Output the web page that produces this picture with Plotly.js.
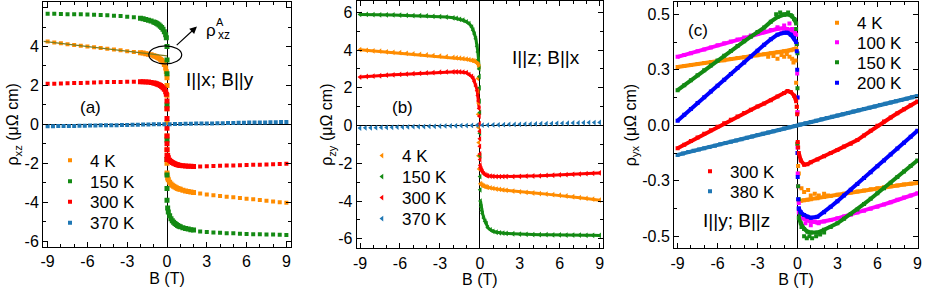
<!DOCTYPE html>
<html><head><meta charset="utf-8">
<script src="https://cdn.plot.ly/plotly-3.0.1.min.js"></script>
<style>html,body{margin:0;padding:0;background:#fff}#chart{width:926px;height:294px}</style>
</head><body><div id="chart"></div>
<script>
// ---------- tick labels ----------
const xTickVals = [-9,-6,-3,0,3,6,9];
const xTickText = ['-9','-6','-3','0','3','6','9'];
const abTickVals = [-6,-4,-2,0,2,4,6];
const abTickText = ['-6','-4','-2','0','2','4','6'];
const cTickVals = [-0.6,-0.3,0,0.3,0.6];
const cTickText = ['-0.5','-0.3','0.0','0.3','0.5'];

// ---------- panel (a): rho_xz, I||x, B||y ----------
const aBout = [-9,-8.5,-8,-7.5,-7,-6.5,-6,-5.5,-5,-4.5,-4,-3.5,-3,-2.5,2.5,3,3.5,4,4.5,5,5.5,6,6.5,7,7.5,8,8.5,9];
const a4Kout = [4.25,4.21,4.16,4.12,4.08,4.04,4.0,3.96,3.92,3.88,3.84,3.8,3.76,3.72,-3.55,-3.6,-3.64,-3.68,-3.72,-3.75,-3.78,-3.82,-3.85,-3.89,-3.92,-3.96,-4.0,-4.03];
const a150Kout = [5.68,5.68,5.67,5.66,5.66,5.65,5.64,5.63,5.62,5.6,5.58,5.56,5.53,5.5,-5.5,-5.53,-5.55,-5.57,-5.59,-5.6,-5.62,-5.63,-5.64,-5.65,-5.66,-5.66,-5.67,-5.68];
const a300Kout = [2.08,2.09,2.1,2.11,2.12,2.13,2.14,2.15,2.16,2.17,2.17,2.18,2.19,2.19,-2.16,-2.15,-2.14,-2.13,-2.12,-2.11,-2.1,-2.09,-2.08,-2.07,-2.06,-2.05,-2.04,-2.03];
const aBin = [-2,-1.8,-1.6,-1.4,-1.2,-1,-0.9,-0.8,-0.7,-0.6,-0.5,-0.4,-0.3,-0.2,-0.1,-0.05,0,0,0,0,0,0,0,0,0,0.05,0.1,0.2,0.3,0.4,0.5,0.6,0.7,0.8,0.9,1,1.2,1.4,1.6,1.8,2];
const a4Kin = [3.68,3.66,3.63,3.6,3.57,3.53,3.5,3.47,3.44,3.4,3.35,3.29,3.2,3.08,2.9,2.7,2.4,2.0,1.5,0.8,0.1,-0.6,-1.3,-2.0,-2.5,-2.75,-2.85,-2.97,-3.06,-3.13,-3.18,-3.22,-3.26,-3.29,-3.32,-3.34,-3.38,-3.42,-3.45,-3.48,-3.5];
const a150Kin = [5.45,5.42,5.39,5.35,5.31,5.26,5.23,5.19,5.15,5.1,5.04,4.97,4.88,4.76,4.6,4.45,4.0,3.3,2.6,1.0,-0.8,-1.8,-2.6,-3.3,-3.9,-4.3,-4.5,-4.7,-4.85,-4.95,-5.03,-5.09,-5.14,-5.19,-5.23,-5.26,-5.31,-5.35,-5.38,-5.41,-5.43];
const a300Kin = [2.19,2.19,2.18,2.17,2.15,2.13,2.11,2.09,2.06,2.03,1.99,1.94,1.88,1.8,1.68,1.55,1.2,0.8,0.3,-0.2,-0.6,-1.0,-1.3,-1.6,-1.8,-1.6,-1.72,-1.84,-1.91,-1.96,-2.0,-2.03,-2.06,-2.08,-2.1,-2.11,-2.13,-2.14,-2.15,-2.15,-2.16];
const aFitB = [-9.3, 0];
const aFitY = [4.26, 3.52];

// shared field grid for the nearly linear high-T curves
const linB = [-9,-8.6,-8.2,-7.8,-7.4,-7,-6.6,-6.2,-5.8,-5.4,-5,-4.6,-4.2,-3.8,-3.4,-3,-2.6,-2.2,-1.8,-1.4,-1,-0.6,-0.2,0.2,0.6,1,1.4,1.8,2.2,2.6,3,3.4,3.8,4.2,4.6,5,5.4,5.8,6.2,6.6,7,7.4,7.8,8.2,8.6,9];
const a370K = [-0.10,-0.10,-0.09,-0.09,-0.08,-0.08,-0.07,-0.07,-0.06,-0.06,-0.05,-0.05,-0.04,-0.04,-0.03,-0.03,-0.02,-0.02,-0.01,-0.01,0,0,0.01,0.01,0.02,0.02,0.03,0.03,0.04,0.04,0.05,0.05,0.06,0.06,0.07,0.07,0.08,0.08,0.09,0.09,0.10,0.10,0.11,0.11,0.12,0.12];

// ---------- panel (b): rho_zy, I||z, B||x ----------
const bBneg = [-9,-8.5,-8,-7.5,-7,-6.5,-6,-5.5,-5,-4.5,-4,-3.5,-3,-2.5,-2,-1.75,-1.5,-1.25,-1,-0.8,-0.6,-0.5,-0.4,-0.3,-0.2,-0.15,-0.1,-0.05];
const bBpos = [0.05,0.1,0.15,0.2,0.3,0.4,0.5,0.6,0.8,1,1.25,1.5,1.75,2,2.5,3,3.5,4,4.5,5,5.5,6,6.5,7,7.5,8,8.5,9];
const b4Kneg = [4.02,3.99,3.96,3.94,3.91,3.88,3.86,3.83,3.8,3.77,3.74,3.71,3.68,3.65,3.61,3.59,3.57,3.55,3.52,3.49,3.46,3.44,3.41,3.37,3.32,3.28,3.22,3.12];
const b4Kpos = [-3.08,-3.12,-3.15,-3.17,-3.2,-3.23,-3.25,-3.27,-3.3,-3.33,-3.36,-3.38,-3.41,-3.43,-3.47,-3.51,-3.54,-3.57,-3.6,-3.63,-3.66,-3.69,-3.73,-3.77,-3.82,-3.86,-3.9,-3.95];
const b150Kneg = [5.89,5.89,5.88,5.87,5.87,5.86,5.85,5.84,5.83,5.82,5.81,5.79,5.77,5.75,5.71,5.68,5.63,5.58,5.5,5.4,5.22,5.05,4.85,4.6,4.2,3.9,3.5,3.0];
const b150Kpos = [-4.0,-4.3,-4.5,-4.65,-4.9,-5.08,-5.2,-5.4,-5.52,-5.6,-5.65,-5.68,-5.7,-5.71,-5.73,-5.75,-5.76,-5.77,-5.78,-5.78,-5.79,-5.79,-5.8,-5.8,-5.8,-5.81,-5.81,-5.82];
const b300Kneg = [2.57,2.6,2.62,2.64,2.67,2.69,2.71,2.73,2.75,2.77,2.79,2.81,2.83,2.84,2.85,2.85,2.84,2.83,2.8,2.7,2.6,2.5,2.33,2.1,1.85,1.6,1.3,0.9];
const b300Kpos = [-2.2,-2.3,-2.38,-2.45,-2.54,-2.6,-2.64,-2.66,-2.68,-2.69,-2.7,-2.7,-2.7,-2.7,-2.7,-2.69,-2.68,-2.67,-2.66,-2.64,-2.63,-2.61,-2.6,-2.58,-2.57,-2.55,-2.53,-2.51];
const b4KjB = [-0.15,-0.12,-0.1,-0.12,-0.1,-0.08,-0.1,-0.05];
const b4KjY = [2.5,1.8,1.2,0.6,-0.1,-0.9,-1.6,-2.3];
const b150KjB = [-0.03,-0.02,-0.02,0,0,0.02,0.02,0.03];
const b150KjY = [2.6,2.0,1.3,0.7,-0.4,-1.6,-2.7,-3.4];
const b300KjB = [-0.03,-0.02,-0.01,0,0,0.01,0.02,0.03];
const b300KjY = [0.5,0.1,-0.3,-0.7,-1.1,-1.5,-1.8,-2.1];
const b370K = [-0.13,-0.12,-0.12,-0.11,-0.10,-0.10,-0.09,-0.08,-0.08,-0.07,-0.06,-0.06,-0.05,-0.04,-0.04,-0.03,-0.02,-0.02,-0.01,0,0,0.01,0.02,0.02,0.03,0.04,0.04,0.05,0.06,0.06,0.07,0.08,0.08,0.09,0.10,0.10,0.11,0.12,0.12,0.13,0.14,0.14,0.15,0.16,0.16,0.17];

// ---------- panel (c): rho_yx, I||y, B||z ----------
const cBneg = [-9,-8.5,-8,-7.5,-7,-6.5,-6,-5.5,-5,-4.5,-4,-3.5,-3,-2.5,-2,-1.5,-1,-0.75,-0.5,-0.25,-0.1];
const cBpos = [0.1,0.25,0.5,0.75,1,1.5,2,2.5,3,3.5,4,4.5,5,5.5,6,6.5,7,7.5,8,8.5,9];
const c4Kneg = [0.315,0.32,0.326,0.331,0.336,0.342,0.347,0.352,0.358,0.363,0.368,0.374,0.379,0.384,0.39,0.395,0.4,0.403,0.406,0.41,0.415];
const c4Kpos = [-0.41,-0.408,-0.405,-0.402,-0.4,-0.394,-0.388,-0.382,-0.376,-0.37,-0.364,-0.358,-0.352,-0.346,-0.34,-0.335,-0.33,-0.325,-0.32,-0.316,-0.312];
const c100Kneg = [0.37,0.38,0.39,0.4,0.41,0.42,0.432,0.443,0.453,0.464,0.474,0.485,0.495,0.505,0.515,0.522,0.525,0.52,0.515,0.505,0.49];
const c100Kpos = [-0.47,-0.49,-0.505,-0.515,-0.52,-0.525,-0.52,-0.512,-0.503,-0.493,-0.483,-0.472,-0.462,-0.451,-0.44,-0.428,-0.416,-0.403,-0.39,-0.379,-0.368];
const c150Kneg = [0.19,0.217,0.244,0.27,0.297,0.323,0.35,0.376,0.402,0.428,0.454,0.479,0.504,0.528,0.56,0.585,0.598,0.6,0.595,0.575,0.55];
const c150Kpos = [-0.5,-0.53,-0.56,-0.575,-0.58,-0.58,-0.565,-0.55,-0.53,-0.505,-0.48,-0.455,-0.425,-0.397,-0.368,-0.34,-0.31,-0.28,-0.25,-0.22,-0.19];
const c200Kneg = [0.025,0.057,0.088,0.12,0.151,0.183,0.214,0.246,0.277,0.309,0.34,0.372,0.403,0.435,0.465,0.49,0.5,0.5,0.49,0.47,0.45];
const c200Kpos = [-0.45,-0.47,-0.485,-0.495,-0.5,-0.495,-0.47,-0.44,-0.41,-0.379,-0.348,-0.317,-0.285,-0.254,-0.222,-0.19,-0.158,-0.126,-0.094,-0.062,-0.03];
const c300Kneg = [-0.124,-0.105,-0.085,-0.066,-0.046,-0.027,-0.008,0.011,0.03,0.048,0.066,0.084,0.101,0.118,0.135,0.155,0.175,0.185,0.18,0.16,0.13];
const c300Kpos = [-0.15,-0.19,-0.213,-0.21,-0.2,-0.185,-0.168,-0.15,-0.133,-0.115,-0.1,-0.08,-0.055,-0.03,-0.003,0.02,0.042,0.065,0.087,0.108,0.128];
const c380K = [-0.160,-0.152,-0.145,-0.138,-0.131,-0.124,-0.117,-0.110,-0.103,-0.096,-0.089,-0.082,-0.075,-0.068,-0.060,-0.053,-0.046,-0.039,-0.032,-0.025,-0.018,-0.011,-0.004,0.004,0.011,0.018,0.025,0.032,0.039,0.046,0.053,0.060,0.067,0.074,0.081,0.088,0.095,0.102,0.109,0.116,0.123,0.130,0.137,0.144,0.151,0.158];
const c4KsB = [-2.2,-1.8,-1.5,-1.2,-1.0,-0.8,-0.6,-0.4,-0.3,-0.15,-0.1,-0.05,0,0,0.05,0.1,0.3,0.5,0.8,1.0,1.3,1.6,2.0,2.3];
const c4KsY = [0.37,0.375,0.36,0.38,0.37,0.385,0.37,0.36,0.34,0.35,0.23,0.1,0.07,-0.1,-0.22,-0.26,-0.34,-0.36,-0.35,-0.38,-0.37,-0.38,-0.37,-0.38];
const c100KsB = [-1.5,-1.2,-1.0,-0.8,-0.6,-0.4,-0.3,-0.2,-0.05,-0.02,0,0,0,0.02,0.05,0.1,0.2,0.4,0.6,0.8,1.0,1.3,1.6];
const c100KsY = [0.53,0.50,0.54,0.51,0.55,0.52,0.49,0.5,0.44,0.28,0.15,0.07,-0.12,-0.26,-0.33,-0.42,-0.47,-0.5,-0.53,-0.51,-0.54,-0.52,-0.53];
const c150KsB = [-1.6,-1.3,-1.0,-0.7,-0.4,-0.2,-0.1,-0.05,0,0,0,0.05,0.1,0.2,0.3,0.5,0.7,0.9,1.1,1.4,1.7,2.0];
const c150KsY = [0.6,0.61,0.6,0.61,0.59,0.57,0.52,0.44,0.39,0.2,-0.1,-0.33,-0.4,-0.48,-0.55,-0.6,-0.61,-0.6,-0.61,-0.6,-0.59,-0.58];
const c200KsB = [-0.05,-0.02,0,0,0.02,0.05,0.1];
const c200KsY = [0.4,0.3,0.15,-0.15,-0.28,-0.4,-0.45];
const c300KsB = [-0.05,-0.02,0.02,0.05];
const c300KsY = [0.1,0.06,-0.09,-0.12];

// ---------- styling ----------
const FONT = 'Liberation Sans, Arial, sans-serif';
const ORANGE = '#ff8c00', GREEN = '#138a13', RED = '#ff0000', STEEL = '#1f77b4';
const MAGENTA = '#ff00ff', BLUE = '#0000ff', OLIVE = '#7d7d22';
const W = 926, H = 294;

const traces = [];
function pts(x, y, xa, ya, color, sym, size, name, legend) {
  traces.push({type:'scatter', mode:'markers', x, y, xaxis:xa, yaxis:ya,
    marker:{color, symbol:sym, size, line:{width:0}},
    name: name || '', showlegend: !!name, legend: legend || 'legend', hoverinfo:'skip'});
}
function line(x, y, xa, ya, color, w) {
  traces.push({type:'scatter', mode:'lines', x, y, xaxis:xa, yaxis:ya,
    line:{color, width:w}, showlegend:false, hoverinfo:'skip'});
}

// panel (a)
pts(aBin, a4Kin, 'x', 'y', ORANGE, 'square', 5);
pts(aBin, a150Kin, 'x', 'y', GREEN, 'square', 5);
pts(aBin, a300Kin, 'x', 'y', RED, 'square', 5);
pts(aBout, a4Kout, 'x', 'y', ORANGE, 'square', 4, '4 K', 'legend');
pts(aBout, a150Kout, 'x', 'y', GREEN, 'square', 4, '150 K', 'legend2');
pts(aBout, a300Kout, 'x', 'y', RED, 'square', 4, '300 K', 'legend3');
pts(linB, a370K, 'x', 'y', STEEL, 'square', 4, '370 K', 'legend4');
line(aFitB, aFitY, 'x', 'y', OLIVE, 1.3);

// panel (b)
const TRI = 'triangle-left';
line(bBneg, b4Kneg, 'x2', 'y2', ORANGE, 3); line(bBpos, b4Kpos, 'x2', 'y2', ORANGE, 3);
line(bBneg, b150Kneg, 'x2', 'y2', GREEN, 3); line(bBpos, b150Kpos, 'x2', 'y2', GREEN, 3);
line(bBneg, b300Kneg, 'x2', 'y2', RED, 3); line(bBpos, b300Kpos, 'x2', 'y2', RED, 3);
pts(bBneg, b4Kneg, 'x2', 'y2', ORANGE, TRI, 5, '4 K', 'legend5');
pts(bBpos, b4Kpos, 'x2', 'y2', ORANGE, TRI, 5);
pts(b4KjB, b4KjY, 'x2', 'y2', ORANGE, TRI, 5);
pts(bBneg, b150Kneg, 'x2', 'y2', GREEN, TRI, 5, '150 K', 'legend6');
pts(bBpos, b150Kpos, 'x2', 'y2', GREEN, TRI, 5);
pts(b150KjB, b150KjY, 'x2', 'y2', GREEN, TRI, 5);
pts(bBneg, b300Kneg, 'x2', 'y2', RED, TRI, 5, '300 K', 'legend7');
pts(bBpos, b300Kpos, 'x2', 'y2', RED, TRI, 5);
pts(b300KjB, b300KjY, 'x2', 'y2', RED, TRI, 5);
pts(linB, b370K, 'x2', 'y2', STEEL, TRI, 5, '370 K', 'legend8');

// panel (c)
const cSeries = [
  [c4Kneg, c4Kpos, c4KsB, c4KsY, ORANGE, '4 K', 'legend9'],
  [c100Kneg, c100Kpos, c100KsB, c100KsY, MAGENTA, '100 K', 'legend10'],
  [c150Kneg, c150Kpos, c150KsB, c150KsY, GREEN, '150 K', 'legend11'],
  [c200Kneg, c200Kpos, c200KsB, c200KsY, BLUE, '200 K', 'legend12'],
  [c300Kneg, c300Kpos, c300KsB, c300KsY, RED, '300 K', 'legend13'],
];
cSeries.forEach(([yn, yp, sb, sy, col, name, lg]) => {
  line(cBneg, yn, 'x3', 'y3', col, 4);
  line(cBpos, yp, 'x3', 'y3', col, 4);
  pts(cBneg, yn, 'x3', 'y3', col, 'square', 4, name, lg);
  pts(cBpos, yp, 'x3', 'y3', col, 'square', 4);
  pts(sb, sy, 'x3', 'y3', col, 'square', 4);
});
line(linB, c380K, 'x3', 'y3', STEEL, 4);
pts(linB, c380K, 'x3', 'y3', STEEL, 'square', 4, '380 K', 'legend14');

// ---------- layout ----------
const tickFont = {family: FONT, size: 16, color: '#000'};
const titleFont = {family: FONT, size: 16, color: '#000'};
function axis(extra) {
  return Object.assign({
    showline: true, linecolor: '#000', linewidth: 1, mirror: 'allticks',
    ticks: 'inside', ticklen: 5, tickwidth: 1, tickcolor: '#000',
    showgrid: false, zeroline: true, zerolinecolor: '#000', zerolinewidth: 1,
    tickfont: tickFont, tickmode: 'array', fixedrange: true,
  }, extra);
}
function xax(dom, range, anchor) {
  return axis({domain: dom, range, anchor, tickvals: xTickVals, ticktext: xTickText,
    minor: {tickmode: 'linear', tick0: 0, dtick: 1, ticks: 'inside', ticklen: 3, tickwidth: 1, tickcolor: '#000', showgrid: false},
    title: {text: 'B (T)', font: titleFont, standoff: 1}});
}
function yax(dom, range, anchor, tv, tt, mdt, title) {
  return axis({domain: dom, range, anchor, tickvals: tv, ticktext: tt,
    minor: {tickmode: 'linear', tick0: 0, dtick: mdt, ticks: 'inside', ticklen: 3, tickwidth: 1, tickcolor: '#000', showgrid: false},
    title: {text: title, font: titleFont, standoff: 1}});
}
const legBase = {xanchor: 'left', yanchor: 'middle', bgcolor: 'rgba(0,0,0,0)', borderwidth: 0,
  font: {family: FONT, size: 17, color: '#000'}, itemwidth: 30, tracegroupgap: 0};
const leg = (px, py) => Object.assign({x: px / W, y: 1 - py / H}, legBase);

const ann = (x, y, xref, yref, text, size, extra) => Object.assign({x, y, xref, yref, text, showarrow: false,
  font: {family: FONT, size: size || 17, color: '#000'}}, extra || {});

const layout = {
  width: W, height: H, margin: {l: 0, r: 0, t: 0, b: 0},
  paper_bgcolor: '#fff', plot_bgcolor: '#fff', showlegend: true,
  xaxis: xax([43/W, 291/W], [-9.35, 9.35], 'y'),
  yaxis: yax([1-247/H, 1-1.7/H], [-6.3, 6.3], 'x', abTickVals, abTickText, 1, 'ρ<sub>xz</sub> (μΩ cm)'),
  xaxis2: xax([356.7/W, 603/W], [-9.25, 9.25], 'y2'),
  yaxis2: yax([1-248.3/H, 1-1/H], [-6.5, 6.6], 'x2', abTickVals, abTickText, 1, 'ρ<sub>zy</sub> (μΩ cm)'),
  xaxis3: xax([674/W, 918/W], [-9.27, 9.05], 'y3'),
  yaxis3: yax([1-248.3/H, 1-1.7/H], [-0.665, 0.668], 'x3', cTickVals, cTickText, 0.15, 'ρ<sub>yx</sub> (μΩ cm)'),
  legend: leg(50, 160.7), legend2: leg(50, 181.7), legend3: leg(50, 202.3), legend4: leg(50, 223.3),
  legend5: leg(362, 156), legend6: leg(362, 177), legend7: leg(362, 198), legend8: leg(362, 219),
  legend9: leg(817, 23.3), legend10: leg(817, 42.7), legend11: leg(817, 62.7), legend12: leg(817, 83.3),
  legend13: leg(690, 171.7), legend14: leg(690, 191.7),
  shapes: [
    {type: 'circle', xref: 'x', yref: 'y', x0: -1.37, x1: 1.11, y0: 3.11, y1: 4.03, line: {color: '#000', width: 1.2}},
  ],
  annotations: [
    ann(-5.78, 0.86, 'x', 'y', '(a)'),
    ann(4.0, 2.29, 'x', 'y', 'I||x; B||y', 19),
    ann(3.3, 4.8, 'x', 'y', 'ρ'),
    ann(4.0, 5.25, 'x', 'y', 'A', 11),
    ann(4.3, 4.6, 'x', 'y', 'xz', 12),
    {x: 2.26, y: 5.03, ax: 0.62, ay: 4.0, xref: 'x', yref: 'y', axref: 'x', ayref: 'y', text: '',
      showarrow: true, arrowhead: 2, arrowsize: 1.2, arrowwidth: 1.2, arrowcolor: '#000'},
    ann(-5.83, 0.98, 'x2', 'y2', '(b)'),
    ann(4.95, 3.63, 'x2', 'y2', 'I||z; B||x', 19),
    ann(-7.5, 0.515, 'x3', 'y3', '(c)'),
    ann(-4.6, -0.512, 'x3', 'y3', 'I||y; B||z', 19),
  ],
};

Plotly.newPlot('chart', traces, layout, {displayModeBar: false, staticPlot: true});
</script></body></html>
